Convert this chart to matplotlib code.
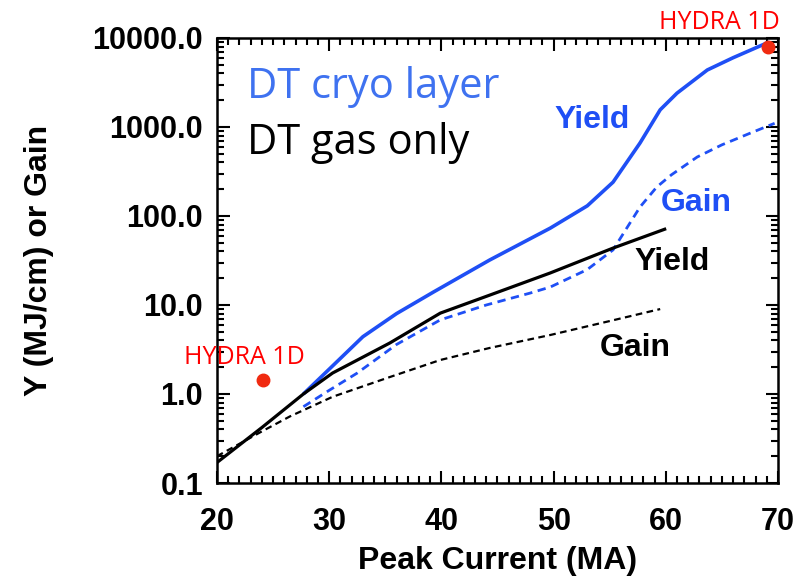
import numpy as np
import matplotlib
matplotlib.use("Agg")
import matplotlib.pyplot as plt
from matplotlib.ticker import FixedLocator, FormatStrFormatter, LogLocator, MultipleLocator

# cryo layer curves
cryo_yield_x = [27.7, 30, 33, 36, 39.3, 44.3, 49.7, 53, 55.3, 57.7, 59.5, 61, 63.7, 66, 69.2]
cryo_yield_y = [1.0, 1.9, 4.4, 8, 14, 32, 73, 130, 240, 660, 1560, 2400, 4370, 6000, 9000]
cryo_gain_x = [27.7, 30, 32.5, 36, 39.9, 44, 47.9, 49.7, 53, 55.3, 57.7, 59.2, 60.5, 62.8, 65, 67.5, 69.7]
cryo_gain_y = [0.72, 1.1, 1.72, 3.6, 6.8, 10, 13.6, 15.9, 25, 41.6, 126, 212, 290, 460, 630, 850, 1100]

# gas only curves
gas_yield_x = [20, 24, 27.7, 30.3, 35.4, 39.9, 44.3, 49.7, 55.3, 59.9]
gas_yield_y = [0.17, 0.42, 1.0, 1.72, 3.74, 8.1, 12.9, 22.9, 43.6, 71]
gas_gain_x = [20, 24, 26.5, 30.3, 35.4, 39.9, 44.3, 49.7, 55, 59.5]
gas_gain_y = [0.2, 0.38, 0.56, 0.93, 1.55, 2.41, 3.29, 4.6, 6.6, 9.0]

# HYDRA 1D points
hydra_x = [24.1, 69.1]
hydra_y = [1.44, 7900]

yticks = [0.1, 1, 10, 100, 1000, 10000]
xticks = [20, 30, 40, 50, 60, 70]

blue = "#1f4ff5"
fig = plt.figure(figsize=(7.99, 5.79), dpi=100)
ax = fig.add_axes([0.2716, 0.1658, 0.7021, 0.7686])

ax.plot(cryo_yield_x, cryo_yield_y, color=blue, lw=2.6, solid_capstyle="butt")
ax.plot(cryo_gain_x, cryo_gain_y, color=blue, lw=2.0, ls=(0, (3, 2)))
ax.plot(gas_yield_x, gas_yield_y, color="black", lw=2.3)
ax.plot(gas_gain_x, gas_gain_y, color="black", lw=1.6, ls=(0, (3, 2)))
ax.plot(hydra_x, hydra_y, "o", color="#f02a10", ms=9, clip_on=False, zorder=5)

ax.set_yscale("log")
ax.set_xlim(20, 70)
ax.set_ylim(0.1, 10000)
ax.yaxis.set_major_locator(FixedLocator(yticks))
ax.yaxis.set_major_formatter(FormatStrFormatter("%.1f"))
ax.yaxis.set_minor_locator(LogLocator(base=10, subs=np.arange(2, 10)))
ax.xaxis.set_major_locator(FixedLocator(xticks))
ax.xaxis.set_minor_locator(MultipleLocator(1))

bold = dict(family="Liberation Sans", weight="bold")
for lab in ax.get_xticklabels() + ax.get_yticklabels():
    lab.set_fontsize(22)
    lab.set_fontfamily("Liberation Sans")
    lab.set_fontweight("bold")
ax.tick_params(which="both", direction="in", top=True, right=True, width=1.5)
ax.tick_params(which="major", length=9)
ax.tick_params(which="minor", length=5)
ax.tick_params(axis="x", which="major", pad=17)
ax.tick_params(axis="y", which="major", pad=10)
for s in ax.spines.values():
    s.set_linewidth(1.8)

ax.set_xlabel("Peak Current (MA)", fontsize=23, labelpad=7, **bold)
ax.set_ylabel("Y (MJ/cm) or Gain", fontsize=23, labelpad=28, **bold)

ax.text(0.053, 0.89, "DT cryo layer", transform=ax.transAxes, color="#3f72f0",
        fontsize=30, family="Open Sans", va="center")
ax.text(0.053, 0.765, "DT gas only", transform=ax.transAxes, color="black",
        fontsize=30, family="Open Sans", va="center")
ax.text(53.4, 1200, "Yield", color=blue, fontsize=23, ha="center", va="center", **bold)
ax.text(62.7, 140, "Gain", color=blue, fontsize=23, ha="center", va="center", **bold)
ax.text(60.6, 30.4, "Yield", color="black", fontsize=23, ha="center", va="center", **bold)
ax.text(57.3, 3.29, "Gain", color="black", fontsize=23, ha="center", va="center", **bold)
ax.text(22.4, 2.6, "HYDRA 1D", color="red", fontsize=18, family="Open Sans",
        ha="center", va="center")
ax.text(64.8, 15100, "HYDRA 1D", color="red", fontsize=18, family="Open Sans",
        ha="center", va="center", clip_on=False)

fig.savefig("out.png", dpi=100)
